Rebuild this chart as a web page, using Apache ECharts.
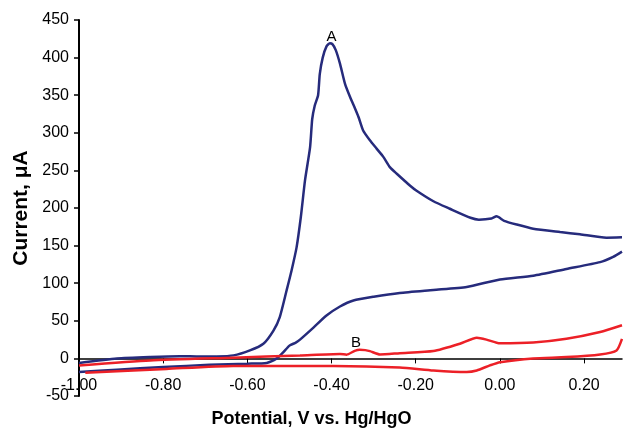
<!DOCTYPE html>
<html>
<head>
<meta charset="utf-8">
<title>CV</title>
<script src="https://cdn.jsdelivr.net/npm/echarts@6/dist/echarts.min.js"></script>
<style>
  html, body { margin: 0; padding: 0; background: #fff; }
  #chart1 { width: 623px; height: 430px; }
</style>
</head>
<body>
<div id="chart1"></div>
<script>
// 扫描数据 (Potential V, Current uA)
var blueFwdE = [-1.00, -0.91, -0.80, -0.69, -0.60, -0.554, -0.530, -0.515, -0.500, -0.485, -0.475, -0.443, -0.412, -0.380, -0.348, -0.300, -0.238, -0.158, -0.079, 0.000, 0.079, 0.158, 0.238, 0.269, 0.290];
var blueFwdI = [-18, -15, -11.5, -8.5, -7, -6, 0, 8, 17, 21, 25, 41, 57, 69, 77, 82, 87, 91, 95, 105, 110, 119, 128, 135, 142];

var blueRevE = [0.290, 0.253, 0.190, 0.143, 0.079, 0.040, 0.010, -0.008, -0.020, -0.050, -0.070, -0.119, -0.158, -0.198, -0.214, -0.245, -0.261, -0.277, -0.293, -0.309, -0.325, -0.336, -0.344, -0.356, -0.368, -0.380, -0.390, -0.398, -0.404, -0.412, -0.421, -0.428, -0.432, -0.440, -0.446, -0.451, -0.463, -0.473, -0.483, -0.495, -0.507, -0.523, -0.538, -0.562, -0.594, -0.633, -0.673, -0.713, -0.760, -0.831, -0.910, -1.00];
var blueRevI = [161, 160.5, 165, 168, 172.5, 178, 183, 189, 186, 184.5, 187, 199, 209, 223, 230, 245.6, 254, 268, 279, 290, 303, 321, 332, 347.5, 365, 392, 410, 418, 419, 415, 400, 378, 350, 336, 318, 281, 237, 188, 148, 117, 90, 55, 37, 19.5, 10.6, 4, 2.6, 2.5, 3, 2, 0, -6];

var redUpE = [-1.00, -0.831, -0.634, -0.475, -0.380, -0.364, -0.345, -0.333, -0.320, -0.309, -0.285, -0.238, -0.158, -0.095, -0.055, -0.032, 0.000, 0.079, 0.158, 0.238, 0.290];
var redUpI = [-9.3, -2.7, 1, 4, 6, 5, 10, 11.5, 11, 9.7, 5.3, 7, 9.7, 19.5, 27.5, 25, 20, 21, 26, 35, 44];

var redLowE = [-0.985, -0.792, -0.634, -0.554, -0.396, -0.238, -0.158, -0.079, -0.055, -0.024, 0.000, 0.079, 0.158, 0.238, 0.277, 0.290];
var redLowI = [-19, -14, -10, -10, -10, -12, -16, -18, -16, -9.3, -5, 0, 1.7, 5.3, 10.6, 26];

var peakNames = ['A', 'B'];
var peakE = [-0.400, -0.342];
var peakI = [428, 21];

(
  function () {
    var myChart = echarts.init(document.getElementById('chart1'));
    var font = 'Arial, "Liberation Sans", sans-serif';

    var gridTop = 20, gridBottom = 34;
    var yMin = -50, yMax = 450;
    // x 轴放在 0 电流处
    var plotH = 430 - gridTop - gridBottom;
    var zeroOffset = -plotH * (0 - yMin) / (yMax - yMin);

    function zip(e, i) {
      var out = [];
      for (var k = 0; k < e.length; k++) out.push([e[k], i[k]]);
      return out;
    }

    function mark(idx) {
      return {
        symbol: 'circle',
        symbolSize: 1,
        itemStyle: { color: 'rgba(0,0,0,0)' },
        label: {
          show: true,
          position: 'inside',
          color: '#000',
          fontFamily: font,
          fontSize: 15,
          formatter: peakNames[idx]
        },
        data: [{ coord: [peakE[idx], peakI[idx]] }]
      };
    }

    var blue = '#262b7c';
    var red = '#ec2027';

    var option = {
      animation: false,
      backgroundColor: '#fff',
      grid: { left: 79, right: 1, top: gridTop, bottom: gridBottom, outerBoundsMode: 'none', containLabel: false },
      xAxis: {
        type: 'value',
        min: -1,
        max: 0.29,
        interval: 0.2,
        offset: zeroOffset,
        name: 'Potential, V vs. Hg/HgO',
        nameLocation: 'middle',
        nameGap: 52,
        nameTextStyle: {
          fontFamily: font, fontSize: 18, fontWeight: 'bold', color: '#000',
          padding: [0, 78, 0, 0]
        },
        axisLine: { onZero: false, lineStyle: { color: '#000', width: 1.5 } },
        axisTick: { show: true, length: 5, lineStyle: { color: '#000' } },
        axisLabel: {
          margin: 19,
          showMaxLabel: false,
          fontFamily: font, fontSize: 16, color: '#000',
          formatter: function (v) {
            if (Math.abs(v) < 1e-9) v = 0;
            return v.toFixed(2);
          }
        },
        splitLine: { show: false }
      },
      yAxis: {
        type: 'value',
        min: yMin,
        max: yMax,
        interval: 50,
        name: 'Current, \u03bcA',
        nameLocation: 'middle',
        nameGap: 47,
        nameTextStyle: { fontFamily: font, fontSize: 21, fontWeight: 'bold', color: '#000' },
        axisLine: { show: true, onZero: false, lineStyle: { color: '#000', width: 2 } },
        axisTick: { show: true, length: 5, lineStyle: { color: '#000', width: 1.5 } },
        axisLabel: { margin: 10, fontFamily: font, fontSize: 16, color: '#000' },
        splitLine: { show: false }
      },
      series: [
        {
          name: 'A forward', type: 'line', data: zip(blueFwdE, blueFwdI),
          showSymbol: false, smooth: 0.2, lineStyle: { color: blue, width: 2.5 }
        },
        {
          name: 'A reverse', type: 'line', data: zip(blueRevE, blueRevI),
          showSymbol: false, smooth: 0.2, lineStyle: { color: blue, width: 2.5 },
          markPoint: mark(0)
        },
        {
          name: 'B upper', type: 'line', data: zip(redUpE, redUpI),
          showSymbol: false, smooth: 0.2, lineStyle: { color: red, width: 2.5 },
          markPoint: mark(1)
        },
        {
          name: 'B lower', type: 'line', data: zip(redLowE, redLowI),
          showSymbol: false, smooth: 0.2, lineStyle: { color: red, width: 2.5 }
        }
      ]
    };

    option && myChart.setOption(option);
  }
)();
</script>
</body>
</html>
